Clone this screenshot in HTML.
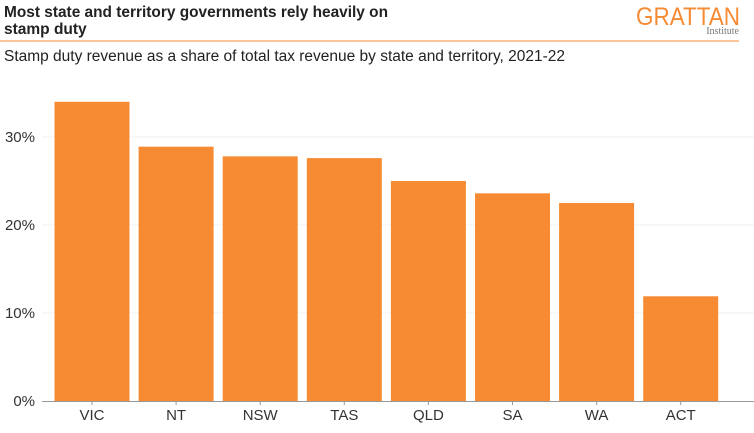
<!DOCTYPE html>
<html><head><meta charset="utf-8"><style>
body{margin:0;background:#fff;font-family:"Liberation Sans",Arial,sans-serif;}
svg{display:block}
</style></head><body>
<svg width="754" height="433" xmlns="http://www.w3.org/2000/svg">
<text x="4" y="17" font-size="15.5" font-weight="bold" fill="#222" textLength="384" lengthAdjust="spacingAndGlyphs">Most state and territory governments rely heavily on</text>
<text x="4" y="34" font-size="15.5" font-weight="bold" fill="#222">stamp duty</text>
<text x="740" y="25" font-size="25" fill="#F68B33" text-anchor="end" textLength="104" lengthAdjust="spacingAndGlyphs">GRATTAN</text>
<text x="739" y="34" font-size="10" fill="#777" text-anchor="end" font-family="Liberation Serif,serif">Institute</text>
<line x1="0" y1="41" x2="739" y2="41" stroke="#F68B33" stroke-width="1"/>
<text x="4" y="61" font-size="15.5" fill="#222" textLength="561" lengthAdjust="spacingAndGlyphs">Stamp duty revenue as a share of total tax revenue by state and territory, 2021-22</text>
<g id="grid"></g><g id="bars"></g><g id="axis"></g>
</svg>
<script>
const categories=["VIC","NT","NSW","TAS","QLD","SA","WA","ACT"];
const values=[34.0,28.9,27.8,27.6,25.0,23.6,22.5,11.9];
const yTicks=[0,10,20,30];
const yTickLabels=["0%","10%","20%","30%"];
const NS="http://www.w3.org/2000/svg";
const y0=401,pxPer=8.8;
function yScale(v){return y0-v*pxPer;}
function xCenter(i){return 92+i*84.1;}
const bw=75;
const grid=document.getElementById('grid'),bars=document.getElementById('bars'),axis=document.getElementById('axis');
function mk(tag,attrs,parent){const e=document.createElementNS(NS,tag);for(const k in attrs)e.setAttribute(k,attrs[k]);parent.appendChild(e);return e;}
yTicks.forEach((t,i)=>{
 const y=yScale(t);
 if(t>0){const g=mk('line',{x1:42,x2:754,y1:y,y2:y,stroke:'#f0f0f0','stroke-width':1},grid);
 
 }
 const l=mk('text',{x:35,y:y+5,'font-size':15,fill:'#333','text-anchor':'end'},axis);
 l.textContent=yTickLabels[i];
 
 
});
categories.forEach((c,i)=>{
 const cx=xCenter(i);
 const r=mk('rect',{x:cx-bw/2,y:yScale(values[i]),width:bw,height:y0-yScale(values[i]),fill:'#F68B33'},bars);
 
 
 const tk=mk('line',{x1:cx,x2:cx,y1:y0,y2:y0+4,stroke:'#999'},axis);
 
 
 const l=mk('text',{x:cx,y:y0+19,'font-size':15,fill:'#333','text-anchor':'middle'},axis);
 l.textContent=c;
 
 
});
const ax=mk('line',{x1:42,x2:754,y1:y0+0.5,y2:y0+0.5,stroke:'#999'},axis);


</script>
</body></html>
